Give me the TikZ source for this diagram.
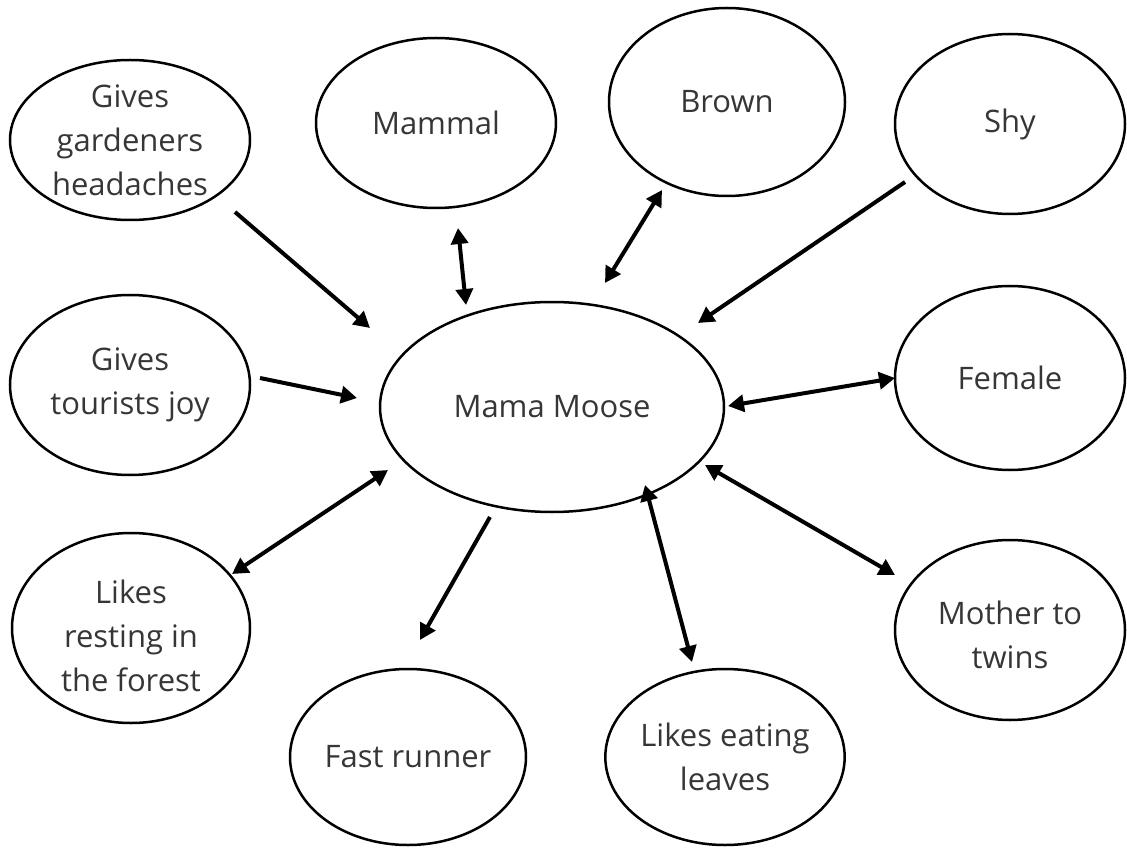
\documentclass[tikz,border=0pt]{standalone}
\usepackage{fontspec}
\setmainfont{Open Sans}
\usetikzlibrary{shapes.geometric,arrows.meta}
\definecolor{txt}{HTML}{363636}
\begin{document}
\begin{tikzpicture}[x=1pt,y=-1pt,
  bubble/.style={draw=black,line width=2.5pt,ellipse,inner sep=0pt,align=center,
    text=txt,font=\fontsize{31}{44}\selectfont},
  label/.style={align=center,text=txt,font=\fontsize{31}{44}\selectfont},
  link/.style={line width=4pt,-{Triangle[length=16pt,width=17pt]}},
  link2/.style={line width=4pt,{Triangle[length=16pt,width=17pt]}-{Triangle[length=16pt,width=17pt]}}]
\useasboundingbox (0,0) rectangle (1127,850);
\node[bubble,minimum width=240pt,minimum height=160pt] (gard) at (130,140) {Gives\\gardeners\\headaches};
\node[bubble,minimum width=240pt,minimum height=170pt] (mammal) at (436,123) {Mammal};
\node[bubble,minimum width=236pt,minimum height=188pt] (brown) at (727,102) {Brown};
\node[bubble,minimum width=230pt,minimum height=180pt] (shy) at (1010,124) {Shy};
\node[bubble,minimum width=240pt,minimum height=180pt] (joy) at (130,385) {Gives\\tourists joy};
\node[bubble,minimum width=344pt,minimum height=210pt] (mama) at (552,407) {Mama Moose};
\node[bubble,minimum width=230pt,minimum height=184pt] (female) at (1010,378) {Female};
\node[bubble,minimum width=238pt,minimum height=190pt] (rest) at (131,628) {};
\node[label] (resttext) at (131,636) {Likes\\resting in\\the forest};
\node[bubble,minimum width=236pt,minimum height=176pt] (fast) at (408,757) {Fast runner};
\node[bubble,minimum width=234pt,minimum height=176pt] (leaves) at (725,757) {Likes eating\\leaves};
\node[bubble,minimum width=230pt,minimum height=180pt] (twins) at (1010,630) {};
\node[label] (twinstext) at (1010,635) {Mother to\\twins};
% arrow endpoints
\coordinate (a1) at (235,212); \coordinate (b1) at (370,328);
\coordinate (a2) at (458,228); \coordinate (b2) at (466,305);
\coordinate (a3) at (605,283); \coordinate (b3) at (662,190);
\coordinate (a4) at (905,182); \coordinate (b4) at (698,323);
\coordinate (a5) at (260,378); \coordinate (b5) at (357,398);
\coordinate (a6) at (728,406); \coordinate (b6) at (895,378);
\coordinate (a7) at (232,574); \coordinate (b7) at (388,470);
\coordinate (a8) at (490,517); \coordinate (b8) at (420,640);
\coordinate (a9) at (645,485); \coordinate (b9) at (692,662);
\coordinate (a10) at (705,465); \coordinate (b10) at (895,575);
\draw[link] (a1) -- (b1);
\draw[link2] (a2) -- (b2);
\draw[link2] (a3) -- (b3);
\draw[link] (a4) -- (b4);
\draw[link] (a5) -- (b5);
\draw[link2] (a6) -- (b6);
\draw[link2] (a7) -- (b7);
\draw[link] (a8) -- (b8);
\draw[link2] (a9) -- (b9);
\draw[link2] (a10) -- (b10);
\end{tikzpicture}
\end{document}
